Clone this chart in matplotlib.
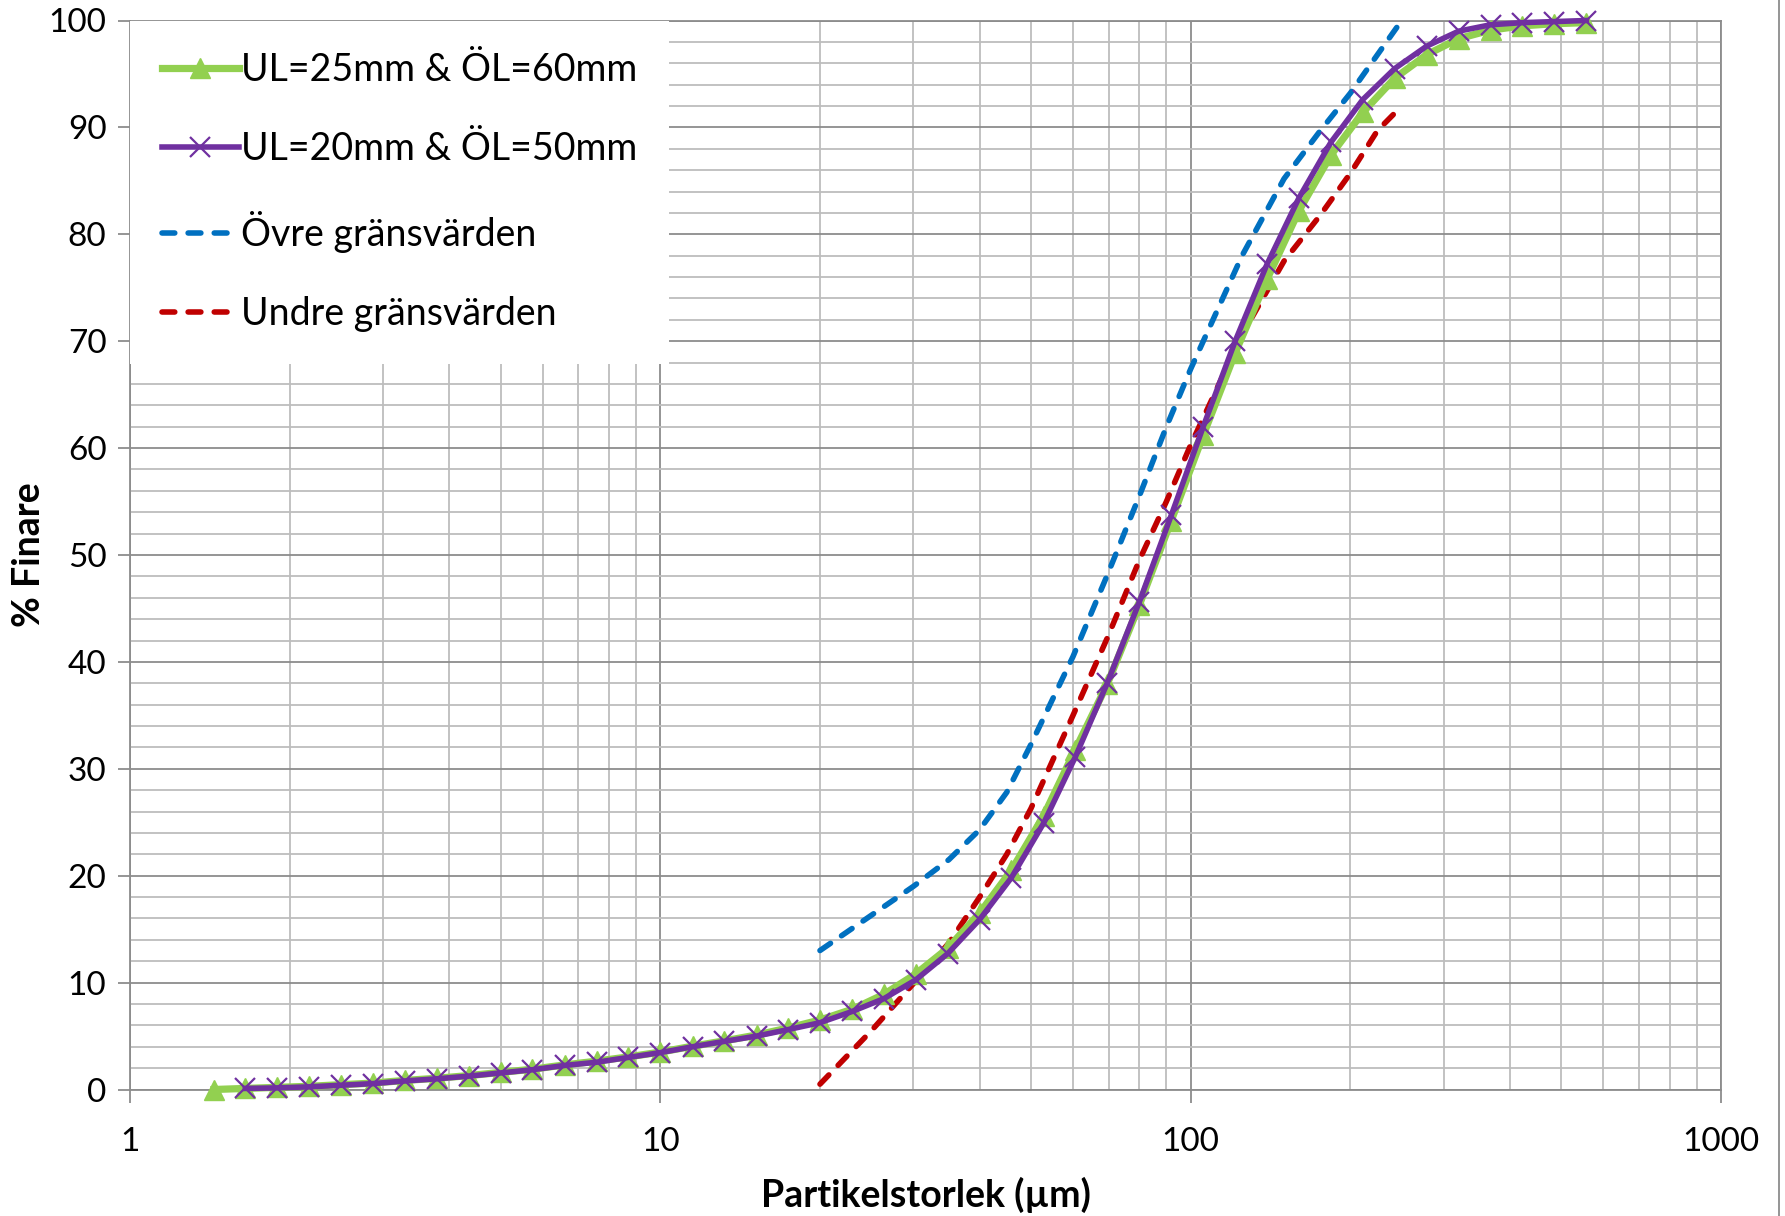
import matplotlib
matplotlib.use("Agg")
import matplotlib.pyplot as plt
from matplotlib.lines import Line2D
from matplotlib.ticker import LogLocator, MultipleLocator, FixedLocator, NullFormatter, FixedFormatter

plt.rcParams['font.family'] = ['Lato', 'DejaVu Sans']

# Particle sizes (µm) of the measured bins
sizes = [1.44, 1.65, 1.89, 2.18, 2.5, 2.87, 3.3, 3.79, 4.35, 5.0, 5.74, 6.6, 7.58, 8.7,
         10, 11.5, 13.2, 15.2, 17.4, 20, 23, 26.4, 30.3, 34.8, 40, 45.9, 52.8, 60.6,
         69.6, 80, 91.9, 105.6, 121.3, 139.3, 160, 183.8, 211.1, 242.5, 278.6, 320,
         367.6, 422.2, 485.0, 557.2]

# UL=25mm & ÖL=60mm (all bins)
green_vals = [0.0, 0.1, 0.2, 0.3, 0.45, 0.6, 0.85, 1.05, 1.3, 1.6, 1.9, 2.3, 2.65, 3.05,
              3.5, 4.05, 4.55, 5.1, 5.75, 6.5, 7.5, 8.9, 10.8, 13.2, 16.5, 20.5, 25.6, 31.8,
              37.9, 45.3, 53.2, 61.2, 68.9, 75.8, 82.2, 87.4, 91.4, 94.6, 96.8, 98.3,
              99.1, 99.5, 99.7, 99.8]

# UL=20mm & ÖL=50mm (from the second bin on)
purple_vals = [0.1, 0.15, 0.25, 0.4, 0.55, 0.8, 1.0, 1.25, 1.55, 1.85, 2.25, 2.55, 3.0,
               3.45, 4.0, 4.5, 5.0, 5.6, 6.25, 7.3, 8.5, 10.25, 12.7, 15.9, 19.8, 24.9, 31.1,
               38.0, 45.6, 53.7, 62.0, 70.0, 77.2, 83.4, 88.6, 92.6, 95.5, 97.6, 99.0,
               99.6, 99.8, 99.9, 100.0]

# Limit curves
limit_x = [20, 25, 30, 35, 40, 45, 50, 60, 70, 80, 90, 100, 125, 150, 175, 200, 225, 250]
upper_vals = [13.0, 16.3, 19.0, 21.5, 24.3, 27.8, 32.3, 40.5, 48.4, 55.5, 62.0, 67.4,
              78.0, 85.2, 89.6, 93.2, 96.8, 100.0]
lower_vals = [0.5, 5.5, 9.9, 13.7, 18.0, 22.0, 26.3, 35.0, 42.5, 49.5, 55.0, 60.3,
              70.6, 77.5, 81.7, 85.7, 89.7, 92.0]

labels = ["UL=25mm & ÖL=60mm", "UL=20mm & ÖL=50mm", "Övre gränsvärden", "Undre gränsvärden"]
x_ticks = [1, 10, 100, 1000]
x_ticklabels = ["1", "10", "100", "1000"]

W, H = 1785, 1216
fig = plt.figure(figsize=(W / 100, H / 100), dpi=100)
ax = fig.add_axes([130 / W, 1 - 1089.5 / H, (1721 - 130) / W, (1089.5 - 20.5) / H])

green_c = '#92D050'
purple_c = '#7030A0'
blue_c = '#0070C0'
red_c = '#C00000'

ax.plot(sizes, green_vals, color=green_c, lw=5.2, marker='^', ms=15,
        mfc=green_c, mec=green_c, label=labels[0], zorder=4, clip_on=False)
ax.plot(sizes[1:], purple_vals, color=purple_c, lw=4.0, marker='x', ms=15, mew=1.6,
        mec=purple_c, label=labels[1], zorder=5, clip_on=False)
ax.plot(limit_x, upper_vals, color=blue_c, lw=4.0, ls=(0, (2.3, 2.4)),
        dash_capstyle='round', label=labels[2], zorder=3)
ax.plot(limit_x, lower_vals, color=red_c, lw=4.0, ls=(0, (2.3, 2.4)),
        dash_capstyle='round', label=labels[3], zorder=3)

ax.set_xscale('log')
ax.set_xlim(1, 1000)
ax.set_ylim(0, 100)

ax.xaxis.set_major_locator(FixedLocator(x_ticks))
ax.xaxis.set_major_formatter(FixedFormatter(x_ticklabels))
ax.xaxis.set_minor_locator(LogLocator(base=10, subs=range(2, 10)))
ax.xaxis.set_minor_formatter(NullFormatter())
ax.yaxis.set_major_locator(MultipleLocator(10))
ax.yaxis.set_minor_locator(MultipleLocator(2))

ax.grid(which='major', color='#8C8C8C', lw=1.3)
ax.grid(which='minor', color='#BDBDBD', lw=1.3)
ax.set_axisbelow(True)

for s in ax.spines.values():
    s.set_color('#8C8C8C')
    s.set_linewidth(1.3)

ax.tick_params(which='major', length=9, width=1.3, color='#8C8C8C', labelsize=24,
               pad=8)
ax.tick_params(axis='x', which='major', pad=18)
ax.tick_params(which='minor', length=0)

ax.set_xlabel("Partikelstorlek (µm)", fontsize=27, fontweight='bold', labelpad=14)
ax.set_ylabel("% Finare", fontsize=27, fontweight='bold', labelpad=2)

leg = ax.legend(loc='upper left', bbox_to_anchor=(0, 1), borderaxespad=0,
                fontsize=27, frameon=True, fancybox=False, framealpha=1,
                facecolor='white', edgecolor='none', handlelength=2.05,
                handletextpad=0.05, labelspacing=1.15, borderpad=0.85, numpoints=1)
leg.set_zorder(10)

fig.add_artist(Line2D([1779 / W, 1779 / W], [0, 1], color='#8C8C8C', lw=1.3))

fig.savefig("out.png", dpi=100, facecolor='white')
